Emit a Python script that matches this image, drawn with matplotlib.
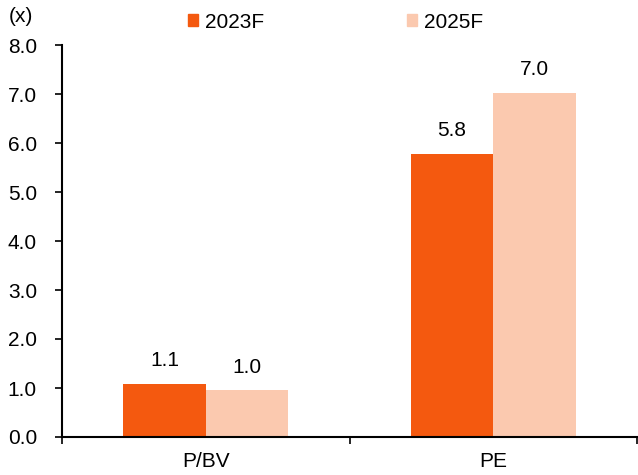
import matplotlib
matplotlib.use("Agg")
import matplotlib.pyplot as plt
from matplotlib.patches import Patch
import numpy as np

plt.rcParams['font.family'] = ['Liberation Sans', 'DejaVu Sans']

categories = ["P/BV", "PE"]
series_names = ["2023F", "2025F"]
values_2023 = [1.075, 5.77]
values_2025 = [0.95, 7.03]
labels_2023 = ["1.1", "5.8"]
labels_2025 = ["1.0", "7.0"]
y_ticks = [0, 1, 2, 3, 4, 5, 6, 7, 8]

colors = ["#F4590F", "#FBC9AF"]

fig = plt.figure(figsize=(6.38, 4.75), dpi=100)
ax = fig.add_axes([62/638, 38/475, 575/638, 392/475])

x = np.arange(len(categories))
w = 0.287
b1 = ax.bar(x - w/2, values_2023, w, color=colors[0], label=series_names[0])
b2 = ax.bar(x + w/2, values_2025, w, color=colors[1], label=series_names[1])

for bars, labs in ((b1, labels_2023), (b2, labels_2025)):
    for rect, lab in zip(bars, labs):
        ax.annotate(lab, (rect.get_x() + rect.get_width()/2, rect.get_height()),
                    xytext=(0, 10), textcoords="offset points",
                    ha="center", va="bottom", fontsize=15)

ax.set_xlim(-0.5, len(categories) - 0.5)
ax.set_ylim(0, 8)
ax.set_yticks(y_ticks)
ax.set_yticklabels([f"{v:.1f}" for v in y_ticks], fontsize=15)
ax.set_xticks(x)
ax.set_xticklabels(categories, fontsize=15)
ax.set_xticks(np.arange(-0.5, len(categories)), minor=True)
ax.tick_params(axis="x", which="major", length=0, pad=11)
ax.tick_params(axis="x", which="minor", length=5, width=1.2, direction="out")
ax.tick_params(axis="y", length=5, width=1.2, direction="out", pad=13)

for s in ["top", "right"]:
    ax.spines[s].set_visible(False)
for s in ["left", "bottom"]:
    ax.spines[s].set_linewidth(1.5)

fig.text(9/638, 1 - 17/475, "(x)", fontsize=15, va="center", ha="left")

handles = [Patch(color=colors[0]), Patch(color=colors[1])]
fig.legend(handles, series_names, ncol=2, frameon=False, fontsize=15,
           loc="center left", bbox_to_anchor=(180/638, 1 - 22/475),
           handlelength=0.48, handleheight=0.48, handletextpad=0.3,
           columnspacing=6.9, borderaxespad=0)

fig.savefig("out.png", dpi=100)
